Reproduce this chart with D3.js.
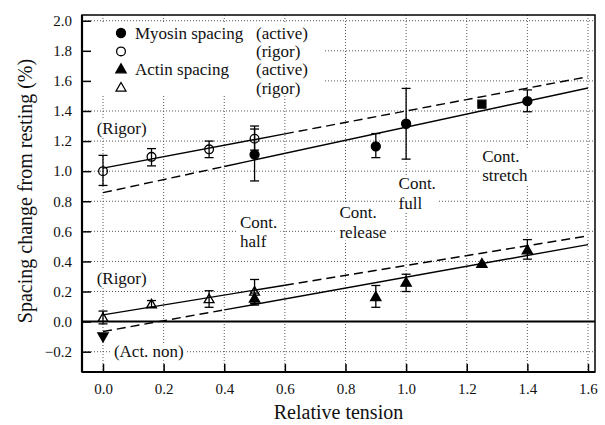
<!DOCTYPE html>
<html>
<head>
<meta charset="utf-8">
<script src="https://cdn.jsdelivr.net/npm/d3@7"></script>
<style>
  body { margin: 0; background: #fff; }
  svg text { font-family: "Liberation Serif", "Times New Roman", Times, "DejaVu Serif", "Noto Serif", serif; fill: #111; }
</style>
</head>
<body>
<div class="chart"></div>
<script>
var svgWidth = 605;
var svgHeight = 425;

var margin = { top: 15, right: 10, bottom: 53, left: 82 };
var width = svgWidth - margin.left - margin.right;
var height = svgHeight - margin.top - margin.bottom;

// data: [tension, spacing change, err low, err high]
var myosinActive = [[0.5, 1.11, 0.935, 1.28], [0.9, 1.165, 1.09, 1.25], [1.0, 1.315, 1.08, 1.55], [1.4, 1.465, 1.395, 1.54]];
var myosinActiveSquare = [[1.25, 1.445]];
var myosinRigor = [[0.0, 1.0, 0.905, 1.105], [0.16, 1.095, 1.035, 1.15], [0.35, 1.145, 1.09, 1.2], [0.5, 1.215, 1.14, 1.30]];
var actinActive = [[0.5, 0.15, 0.11, 0.19], [0.9, 0.16, 0.095, 0.24], [1.0, 0.255, 0.2, 0.315], [1.25, 0.38, 0.38, 0.38], [1.4, 0.47, 0.415, 0.545]];
var actinNon = [[0.0, -0.095]];
var actinRigor = [[0.0, 0.02, -0.015, 0.07], [0.16, 0.11, 0.095, 0.14], [0.35, 0.145, 0.095, 0.205], [0.5, 0.195, 0.12, 0.28]];

// regression lines: [x1, y1, x2, y2, dashed]
var fitLines = [
  [0.0, 1.02, 0.6, 1.248, false], [0.6, 1.248, 1.6, 1.628, true],
  [0.0, 0.857, 0.4, 1.031, true], [0.4, 1.031, 1.6, 1.553, false],
  [0.0, 0.045, 0.6, 0.242, false], [0.6, 0.242, 1.6, 0.57, true],
  [0.0, -0.066, 0.4, 0.078, true], [0.4, 0.078, 1.6, 0.512, false]
];

var xTicks = [0.0, 0.2, 0.4, 0.6, 0.8, 1.0, 1.2, 1.4, 1.6];
var yTicks = [-0.2, 0.0, 0.2, 0.4, 0.6, 0.8, 1.0, 1.2, 1.4, 1.6, 1.8, 2.0];

// annotations: [text lines, x, y of first line]
var notes = [
  [["(Rigor)"], -0.021, 1.287],
  [["(Rigor)"], -0.021, 0.29],
  [["(Act. non)"], 0.036, -0.2],
  [["Cont.", "half"], 0.452, 0.66],
  [["Cont.", "release"], 0.78, 0.725],
  [["Cont.", "full"], 0.975, 0.918],
  [["Cont.", "stretch"], 1.251, 1.1]
];

var legendRows = ["filledCircle", "openCircle", "filledTri", "openTri"];
var legendNames = ["Myosin spacing", "", "Actin spacing", ""];
var legendStates = ["(active)", "(rigor)", "(active)", "(rigor)"];

var svg = d3.select(".chart")
  .append("svg")
  .attr("width", svgWidth)
  .attr("height", svgHeight);

var chartGroup = svg.append("g")
  .attr("transform", `translate(${margin.left}, ${margin.top})`);

var xScale = d3.scaleLinear().domain([-0.0693, 1.6231]).range([0, width]);
var yScale = d3.scaleLinear().domain([-0.335, 2.038]).range([height, 0]);

// dotted grid
chartGroup.selectAll(".vgrid")
  .data(xTicks)
  .enter()
  .append("line")
  .attr("x1", d => xScale(d)).attr("x2", d => xScale(d))
  .attr("y1", 0).attr("y2", height)
  .attr("stroke", "#444").attr("stroke-width", 0.9)
  .attr("stroke-dasharray", "1,2");

chartGroup.selectAll(".hgrid")
  .data(yTicks)
  .enter()
  .append("line")
  .attr("x1", 0).attr("x2", width)
  .attr("y1", d => yScale(d)).attr("y2", d => yScale(d))
  .attr("stroke", "#444").attr("stroke-width", 0.9)
  .attr("stroke-dasharray", "1,2");

// legend blanks the grid behind it
var legendGroup = chartGroup.append("g");
legendGroup.append("rect")
  .attr("x", 1).attr("y", 8)
  .attr("width", 242).attr("height", 73)
  .attr("fill", "#fff");

// zero line
chartGroup.append("line")
  .attr("x1", 0).attr("x2", width)
  .attr("y1", yScale(0)).attr("y2", yScale(0))
  .attr("stroke", "#000").attr("stroke-width", 2);

// fits
chartGroup.selectAll(".fit")
  .data(fitLines)
  .enter()
  .append("line")
  .attr("x1", d => xScale(d[0])).attr("y1", d => yScale(d[1]))
  .attr("x2", d => xScale(d[2])).attr("y2", d => yScale(d[3]))
  .attr("stroke", "#000").attr("stroke-width", 1.4)
  .attr("stroke-dasharray", d => d[4] ? "9,5" : null);

// error bars
function drawErrors(data) {
  var g = chartGroup.append("g")
    .attr("stroke", "#000").attr("stroke-width", 1.3);
  data.filter(d => d[3] > d[2]).forEach(function(d) {
    var cx = xScale(d[0]);
    g.append("line").attr("x1", cx).attr("x2", cx)
      .attr("y1", yScale(d[2])).attr("y2", yScale(d[3]));
    [d[2], d[3]].forEach(function(v) {
      g.append("line").attr("x1", cx - 4.5).attr("x2", cx + 4.5)
        .attr("y1", yScale(v)).attr("y2", yScale(v));
    });
  });
}

var symbolPaths = {
  filledCircle: { path: d3.symbol(d3.symbolCircle, 64)(), fill: "#000" },
  openCircle: { path: d3.symbol(d3.symbolCircle, 60)(), fill: "none" },
  filledTri: { path: d3.symbol(d3.symbolTriangle, 46)(), fill: "#000" },
  openTri: { path: d3.symbol(d3.symbolTriangle, 42)(), fill: "none" },
  square: { path: d3.symbol(d3.symbolSquare, 64)(), fill: "#000" }
};

function drawMarkers(data, kind, rotate) {
  chartGroup.selectAll(null)
    .data(data)
    .enter()
    .append("path")
    .attr("d", symbolPaths[kind].path)
    .attr("transform", d => `translate(${xScale(d[0])}, ${yScale(d[1])})` + (rotate ? " rotate(180)" : ""))
    .attr("fill", symbolPaths[kind].fill)
    .attr("stroke", "#000")
    .attr("stroke-width", 1.3);
}

drawErrors(myosinRigor);
drawErrors(myosinActive);
drawErrors(actinRigor);
drawErrors(actinActive);

drawMarkers(myosinRigor, "openCircle");
drawMarkers(myosinActive, "filledCircle");
drawMarkers(myosinActiveSquare, "square");
drawMarkers(actinRigor, "openTri");
drawMarkers(actinActive, "filledTri");
drawMarkers(actinNon, "filledTri", true);

// annotations with white background, one text per line
notes.forEach(function(n) {
  var g = chartGroup.append("g");
  n[0].forEach(function(line, i) {
    g.append("text")
      .attr("x", xScale(n[1]))
      .attr("y", yScale(n[2]) + i * 19.5)
      .attr("dy", "0.33em")
      .attr("font-size", "17px")
      .text(line);
  });
  var bb = g.node().getBBox();
  g.insert("rect", "text")
    .attr("x", bb.x - 3).attr("y", bb.y + 1)
    .attr("width", bb.width + 6).attr("height", bb.height - 2)
    .attr("fill", "#fff");
});

// legend rows
legendRows.forEach(function(kind, i) {
  var ly = 18 + i * 18.4;
  legendGroup.append("path")
    .attr("d", symbolPaths[kind].path)
    .attr("transform", `translate(39, ${ly})`)
    .attr("fill", symbolPaths[kind].fill)
    .attr("stroke", "#000")
    .attr("stroke-width", 1.3);
  legendGroup.append("text")
    .attr("x", 53).attr("y", ly).attr("dy", "0.33em")
    .attr("font-size", "17px")
    .text(legendNames[i]);
  legendGroup.append("text")
    .attr("x", 174).attr("y", ly).attr("dy", "0.33em")
    .attr("font-size", "17px")
    .text(legendStates[i]);
});

// axes with inward ticks
var bottomAxis = d3.axisBottom(xScale)
  .tickValues(xTicks)
  .tickFormat(d3.format(".1f"))
  .tickSizeInner(-8).tickSizeOuter(0).tickPadding(11);
var leftAxis = d3.axisLeft(yScale)
  .tickValues(yTicks)
  .tickFormat(d3.format(".1f"))
  .tickSizeInner(-9).tickSizeOuter(0).tickPadding(10);

var xAxis = chartGroup.append("g")
  .attr("transform", `translate(0, ${height})`)
  .call(bottomAxis);
var yAxis = chartGroup.append("g")
  .call(leftAxis);

[xAxis, yAxis].forEach(function(a) {
  a.attr("font-family", null);
  a.select(".domain").remove();
  a.selectAll("line").attr("stroke", "#000").attr("stroke-width", 1.5);
  a.selectAll("text")
    .attr("font-size", "15px")
    .attr("fill", "#111");
});

// frame
chartGroup.append("rect")
  .attr("width", width).attr("height", height)
  .attr("fill", "none").attr("stroke", "#000").attr("stroke-width", 1.5);
chartGroup.append("line")
  .attr("x1", 0).attr("x2", 0).attr("y1", 0).attr("y2", height)
  .attr("stroke", "#000").attr("stroke-width", 2.2);
chartGroup.append("line")
  .attr("x1", 0).attr("x2", width).attr("y1", height).attr("y2", height)
  .attr("stroke", "#000").attr("stroke-width", 2.2);

// axis titles
chartGroup.append("text")
  .attr("x", width / 2)
  .attr("y", height + 47)
  .attr("text-anchor", "middle")
  .attr("font-size", "20px")
  .text("Relative tension");

chartGroup.append("text")
  .attr("transform", "rotate(-90)")
  .attr("x", 0 - (191 - margin.top))
  .attr("y", 32 - margin.left)
  .attr("text-anchor", "middle")
  .attr("font-size", "20px")
  .text("Spacing change from resting (%)");
</script>
</body>
</html>
